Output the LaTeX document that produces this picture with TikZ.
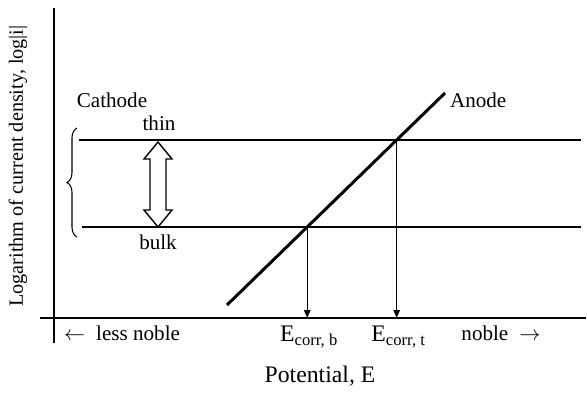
\documentclass[tikz,border=0pt]{standalone}
\usepackage{fontspec}
\setmainfont{Liberation Serif}
\usetikzlibrary{arrows.meta,calc,intersections,decorations.pathreplacing}
\tikzset{
  txt/.style={font=\fontsize{12}{14}\selectfont,inner sep=1pt},
  big/.style={font=\fontsize{13.5}{16}\selectfont,inner sep=1pt},
  axis/.style={line width=1pt},
  lev/.style={line width=1.7pt},
  drop/.style={-{Triangle[length=1.6mm,width=1.3mm]},line width=.6pt},
  brc/.style={decorate,decoration={brace,amplitude=2mm},line width=.6pt},
}
\begin{document}
\begin{tikzpicture}
  \useasboundingbox (-1.08,-1.48) rectangle (10.66,6.36);
  % axes
  \coordinate (ytop) at (0,6.2);
  \coordinate (ybot) at (0,-0.5);
  \coordinate (xl) at (-0.28,0);
  \coordinate (xr) at (10.64,0);
  \draw[axis] (ybot)--(ytop);
  \draw[axis] (xl)--(xr);
  \node[txt,font=\fontsize{11.5}{14}\selectfont,rotate=90] (ylab) at (-0.72,3.04)
    {Logarithm of current density, log|i|};
  \node[big] (xlab) at (5.32,-1.16) {Potential, E};
  \node[txt] (less) at (1.36,-0.30) {$\leftarrow$\; less noble};
  \node[txt] (more) at (8.94,-0.30) {noble\; $\rightarrow$};
  % cathode levels
  \draw[lev,name path=th] (0.50,3.56) coordinate (th0) -- (10.54,3.56);
  \draw[lev,name path=bk] (0.56,1.82) coordinate (bk0) -- (10.54,1.82);
  \node[txt] (cat) at (1.16,4.36) {Cathode};
  \node[txt] (thin) at (2.10,3.90) {thin};
  \node[txt] (bulk) at (2.08,1.52) {bulk};
  \draw[brc] (0.46,1.62) -- (0.46,3.80);
  % shift between the two levels
  \draw[line width=.8pt,fill=white] (2.08,3.52) -- ++(0.28,-0.34) -- ++(-0.12,0)
     -- (2.24,2.16) -- ++(0.12,0) -- (2.08,1.82) -- ++(-0.28,0.34) -- ++(0.12,0)
     -- (1.92,3.18) -- ++(-0.12,0) -- cycle;
  % anode
  \coordinate (a0) at (3.46,0.26);
  \coordinate (a1) at (7.82,4.50);
  \draw[lev,name path=an] (a0)--(a1);
  \node[txt,anchor=west] (ano) at (7.88,4.36) {Anode};
  % corrosion potentials
  \path[name intersections={of=an and th,by=ct}];
  \path[name intersections={of=an and bk,by=cb}];
  \foreach \p/\s in {cb/b,ct/t}{
    \coordinate (f\p) at (\p|-xl);
    \draw[drop] (\p)--(f\p);
    \node[big] (e\p) at ($(f\p)+(0.04,-0.38)$) {E\textsubscript{corr, \s}};
  }
\end{tikzpicture}
\end{document}
